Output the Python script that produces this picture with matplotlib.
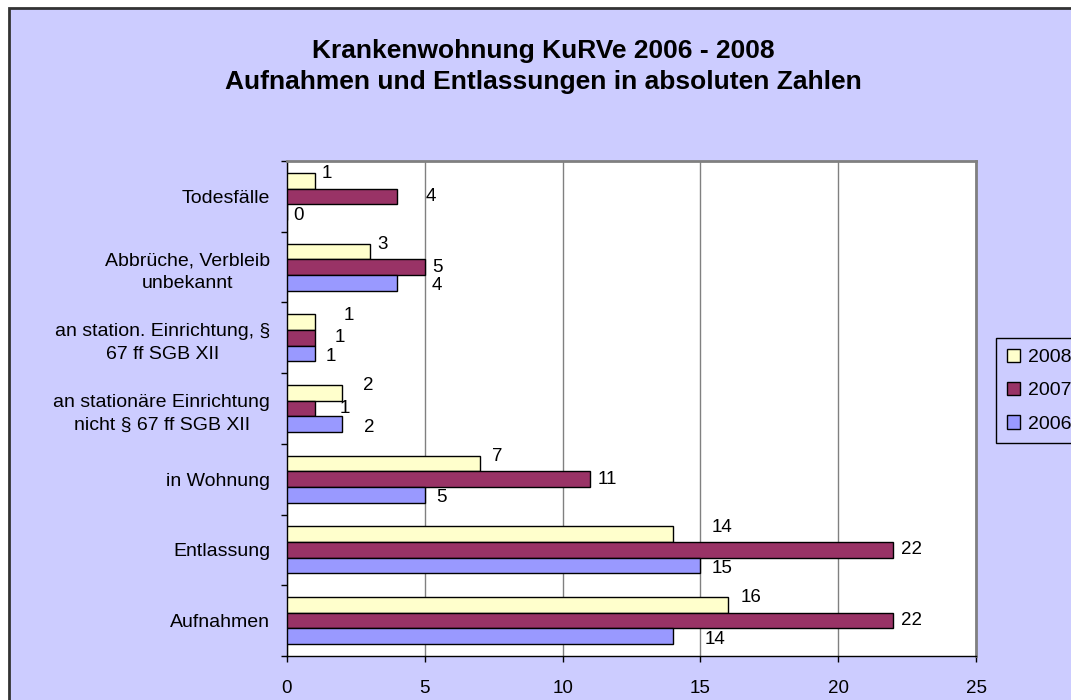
import matplotlib
matplotlib.use("Agg")
import matplotlib.pyplot as plt
import matplotlib.patches as patches
import numpy as np

plt.rcParams['font.family'] = ['Liberation Sans', 'DejaVu Sans']

# categories from bottom to top
categories = [
    "Aufnahmen",
    "Entlassung",
    "in Wohnung",
    "an stationäre Einrichtung\nnicht § 67 ff SGB XII",
    "an station. Einrichtung, §\n67 ff SGB XII",
    "Abbrüche, Verbleib\nunbekannt",
    "Todesfälle",
]
years = ["2008", "2007", "2006"]
values_2008 = [16, 14, 7, 2, 1, 3, 1]
values_2007 = [22, 22, 11, 1, 1, 5, 4]
values_2006 = [14, 15, 5, 2, 1, 4, 0]
x_ticks = [0, 5, 10, 15, 20, 25]

colors = ["#FFFFCC", "#993366", "#9999FF"]
# label offsets (pixels) as the labels sit in the original
label_dx = [
    [23, 49, 17, 26, 34, 13, 12],
    [18, 18, 17, 30, 25, 13, 34],
    [42, 22, 17, 27, 16, 40, 12],
]
label_dy = [7, 0, -3]

W, H = 1071, 700
fig = plt.figure(figsize=(W / 100, H / 100), dpi=100)
fig.patch.set_facecolor("white")

bg = patches.Rectangle((9 / W, -0.1), 1.2, 1 - 8 / H + 0.1, transform=fig.transFigure,
                       facecolor="#CCCCFF", edgecolor="#333333", linewidth=2, zorder=-10)
fig.patches.append(bg)

ax = fig.add_axes([287 / W, 1 - 656 / H, (976 - 287) / W, (656 - 161) / H])
ax.set_facecolor("white")

h = 0.222
series = [values_2008, values_2007, values_2006]
y_base = np.arange(len(categories)) + 0.5
for j, (vals, col, yr) in enumerate(zip(series, colors, years)):
    y = y_base + (1 - j) * h
    ax.barh(y, vals, height=h, color=col, edgecolor="black", linewidth=1, label=yr, zorder=3)
    for k, v in enumerate(vals):
        ax.annotate(str(v), (v, y[k]), xytext=(label_dx[j][k], label_dy[j]),
                    textcoords="offset pixels", ha="center", va="center",
                    fontsize=13.5, color="black", zorder=4)

ax.set_xlim(0, 25)
ax.set_ylim(0, len(categories))
ax.set_xticks(x_ticks)
ax.set_xticklabels([str(t) for t in x_ticks], fontsize=13.5)
ax.tick_params(axis="x", length=4, width=1, pad=13, colors="black")
ax.set_yticks(np.arange(len(categories) + 1))
ax.set_yticklabels([])
ax.set_yticks(y_base, minor=True)
ax.set_yticklabels(categories, minor=True, fontsize=14, multialignment="center", linespacing=1.45)
ax.tick_params(axis="y", which="major", length=4, width=1)
ax.tick_params(axis="y", which="minor", length=0, pad=12)

ax.grid(axis="x", color="#808080", linewidth=1, zorder=0)
ax.set_axisbelow(True)
for s in ["top", "right"]:
    ax.spines[s].set_color("#808080")
    ax.spines[s].set_linewidth(2)
for s in ["left", "bottom"]:
    ax.spines[s].set_color("black")
    ax.spines[s].set_linewidth(1)

fig.text(543 / W, 1 - 66.5 / H, "Krankenwohnung KuRVe 2006 - 2008\nAufnahmen und Entlassungen in absoluten Zahlen",
         ha="center", va="center", fontsize=19, fontweight="bold", linespacing=1.35)

leg = fig.legend(loc="upper left", bbox_to_anchor=(996 / W, 1 - 338 / H), fontsize=14,
                 frameon=True, fancybox=False, edgecolor="black", facecolor="#CCCCFF",
                 handlelength=0.7, handleheight=0.7, handletextpad=0.4, labelspacing=0.8,
                 borderpad=0.55, borderaxespad=0)
leg.get_frame().set_linewidth(1)
leg.get_frame().set_alpha(None)

fig.savefig("out.png", dpi=100)
